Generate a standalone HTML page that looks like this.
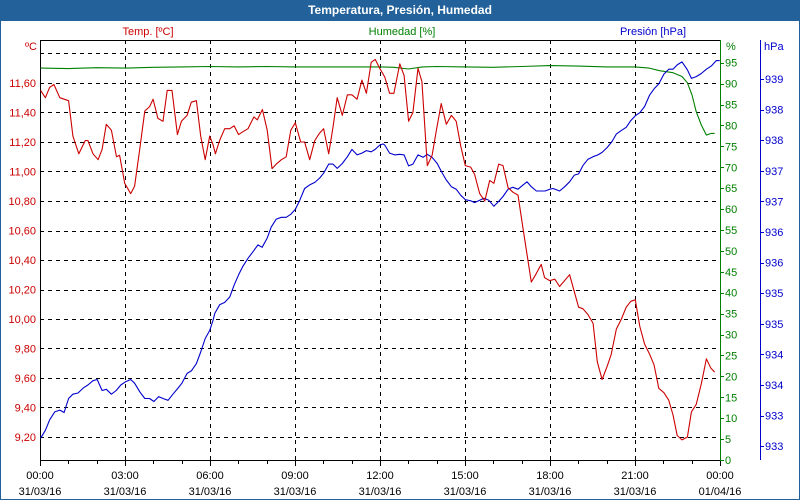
<!DOCTYPE html>
<html><head><meta charset="utf-8">
<style>
html,body{margin:0;padding:0;background:#fff;}
#wrap{position:relative;width:800px;height:500px;overflow:hidden;font-family:"Liberation Sans",sans-serif;}
#titlebar{position:absolute;left:0;top:0;width:800px;height:20px;background:#22619a;color:#fff;font-weight:bold;font-size:12px;text-align:center;line-height:20px;}
#frame{position:absolute;left:0;top:20px;width:798px;height:478px;border:1px solid #22619a;}
svg{position:absolute;left:0;top:0;}
svg text{font-family:"Liberation Sans",sans-serif;font-size:11px;}
</style></head>
<body>
<div id="wrap">
<div id="titlebar">Temperatura, Presión, Humedad</div>
<div id="frame"></div>
<svg id="chart" width="800" height="500"></svg>
</div>
<script>
// ---- data ----
const tempHours = [0.02,0.19,0.34,0.49,0.70,1.01,1.16,1.37,1.60,1.69,1.87,2.05,2.19,2.34,2.52,2.70,2.81,2.99,3.20,3.34,3.52,3.70,3.87,3.99,4.16,4.34,4.49,4.66,4.85,4.99,5.19,5.34,5.52,5.67,5.83,5.99,6.11,6.19,6.34,6.52,6.70,6.85,7.01,7.16,7.34,7.55,7.67,7.85,8.02,8.19,8.34,8.52,8.69,8.85,9.01,9.20,9.34,9.52,9.70,9.87,10.01,10.19,10.34,10.49,10.67,10.85,11.01,11.19,11.36,11.52,11.69,11.83,11.99,12.11,12.17,12.34,12.49,12.70,12.85,13.01,13.16,13.34,13.48,13.67,13.84,13.99,14.16,14.34,14.52,14.69,14.85,15.01,15.20,15.34,15.52,15.70,15.87,16.02,16.19,16.34,16.52,16.69,16.87,17.05,17.34,17.52,17.69,17.81,17.99,18.17,18.34,18.69,19.01,19.16,19.34,19.52,19.67,19.84,20.02,20.16,20.34,20.52,20.69,20.85,21.01,21.17,21.34,21.52,21.67,21.84,22.02,22.19,22.34,22.49,22.66,22.85,22.99,23.16,23.34,23.52,23.67,23.81];
const tempValues = [11.55,11.50,11.57,11.59,11.50,11.48,11.24,11.12,11.21,11.21,11.12,11.08,11.15,11.32,11.28,11.10,11.11,10.92,10.85,10.90,11.15,11.41,11.44,11.49,11.36,11.34,11.55,11.55,11.25,11.34,11.38,11.47,11.48,11.24,11.08,11.24,11.18,11.12,11.21,11.29,11.29,11.31,11.25,11.27,11.29,11.37,11.35,11.42,11.28,11.02,11.05,11.08,11.10,11.28,11.33,11.20,11.20,11.08,11.21,11.26,11.29,11.12,11.30,11.50,11.38,11.52,11.52,11.49,11.62,11.53,11.74,11.76,11.70,11.66,11.64,11.53,11.53,11.73,11.65,11.34,11.40,11.70,11.61,11.04,11.11,11.28,11.46,11.32,11.38,11.34,11.17,11.04,11.03,10.98,10.85,10.80,10.94,10.92,11.05,11.04,10.89,10.86,10.84,10.61,10.25,10.31,10.37,10.28,10.26,10.27,10.22,10.30,10.08,10.07,10.03,9.97,9.71,9.59,9.68,9.76,9.93,10.00,10.08,10.12,10.13,9.95,9.83,9.76,9.69,9.53,9.50,9.45,9.35,9.21,9.18,9.20,9.37,9.42,9.56,9.73,9.67,9.64];
const presHours = [0.02,0.19,0.34,0.52,0.70,0.85,1.01,1.16,1.34,1.52,1.69,1.87,2.02,2.19,2.34,2.52,2.69,2.85,3.01,3.20,3.34,3.52,3.70,3.87,4.02,4.19,4.34,4.52,4.69,4.87,5.01,5.19,5.34,5.52,5.67,5.83,5.99,6.11,6.17,6.34,6.52,6.70,6.85,7.01,7.16,7.34,7.52,7.69,7.84,8.02,8.16,8.34,8.52,8.69,8.85,9.01,9.17,9.34,9.52,9.70,9.87,10.01,10.19,10.34,10.49,10.67,10.85,11.01,11.19,11.36,11.52,11.69,11.83,11.99,12.11,12.17,12.34,12.52,12.70,12.85,13.01,13.16,13.34,13.52,13.67,13.84,14.02,14.19,14.34,14.52,14.69,14.85,15.01,15.20,15.34,15.52,15.67,15.84,16.02,16.19,16.34,16.52,16.69,16.87,17.05,17.19,17.34,17.52,17.69,17.83,17.99,18.11,18.34,18.52,18.69,18.86,19.01,19.17,19.34,19.52,19.69,19.84,20.02,20.19,20.34,20.52,20.69,20.85,21.01,21.17,21.34,21.52,21.69,21.84,22.02,22.19,22.34,22.49,22.66,22.85,22.99,23.16,23.34,23.52,23.69,23.87,23.99];
const presValues = [933.13,933.26,933.43,933.56,933.59,933.55,933.78,933.85,933.87,933.95,934.00,934.07,934.09,933.91,933.93,933.85,933.91,934.00,934.05,934.09,934.03,933.89,933.78,933.78,933.73,933.81,933.78,933.75,933.85,933.95,934.03,934.19,934.23,934.35,934.54,934.76,934.89,935.06,935.17,935.31,935.35,935.44,935.63,935.80,935.94,936.07,936.18,936.29,936.25,936.40,936.58,936.71,936.74,936.74,936.79,936.87,937.02,937.21,937.27,937.31,937.38,937.46,937.61,937.61,937.54,937.62,937.73,937.85,937.76,937.79,937.83,937.81,937.85,937.92,937.94,937.92,937.79,937.76,937.77,937.76,937.58,937.61,937.76,937.72,937.77,937.72,937.62,937.47,937.35,937.24,937.20,937.10,937.03,937.01,936.98,937.02,937.05,937.02,936.92,937.00,937.08,937.20,937.23,937.20,937.27,937.32,937.24,937.17,937.17,937.17,937.20,937.21,937.17,937.24,937.32,937.43,937.45,937.59,937.69,937.73,937.76,937.80,937.88,937.98,938.10,938.16,938.21,938.32,938.40,938.45,938.55,938.74,938.85,938.92,939.08,939.16,939.16,939.23,939.28,939.15,939.01,939.04,939.09,939.16,939.21,939.30,939.30];
const humHours = [0.02,1,2,3,4,5,6,7,8,9,10,11,12,12.5,13,13.5,14,15,16,17,18,19,20,21,21.5,21.87,22.34,22.66,22.85,23.01,23.16,23.34,23.52,23.69,23.81];
const humValues = [93.7,93.6,93.8,93.7,93.9,94.0,94.1,94.0,94.1,94.0,94.0,94.0,94.0,93.9,93.5,94.0,94.1,94.0,93.9,94.1,94.3,94.2,94.0,94.0,93.7,93.1,92.6,91.7,90.2,87.3,83.3,80.1,77.7,78.1,78.1];
const tempTicks = ["9,20","9,40","9,60","9,80","10,00","10,20","10,40","10,60","10,80","11,00","11,20","11,40","11,60"];
const tempTickValues = [9.2,9.4,9.6,9.8,10.0,10.2,10.4,10.6,10.8,11.0,11.2,11.4,11.6,11.8];
const humTicks = [0,5,10,15,20,25,30,35,40,45,50,55,60,65,70,75,80,85,90,95];
const presTickValues = [939.0,938.5,938.0,937.5,937.0,936.5,936.0,935.5,935.0,934.5,934.0,933.5,933.0];
const presTickLabels = ["939","938","938","937","937","936","936","935","935","934","934","933","933"];
const timeLabels = ["00:00","03:00","06:00","09:00","12:00","15:00","18:00","21:00","00:00"];
const dateLabels = ["31/03/16","31/03/16","31/03/16","31/03/16","31/03/16","31/03/16","31/03/16","31/03/16","01/04/16"];

// ---- scales ----
const X0=40, X1=720, YT=40, YB=460;
const xS = h => X0 + h*(X1-X0)/24;
const yT = t => 83 + (11.6-t)*147.5;
const yH = v => 460 - v*4.182;
const yP = p => 79 + (939-p)*61.2;

const svg=document.getElementById('chart');
const NS='http://www.w3.org/2000/svg';
function mk(tag,attrs,parent){const e=document.createElementNS(NS,tag);for(const k in attrs)e.setAttribute(k,attrs[k]);(parent||svg).appendChild(e);return e;}
function txt(s,x,y,anchor,fill,name){const t=mk('text',{x:x,y:y,'text-anchor':anchor,fill:fill});t.textContent=s;


return t;}

// grid
const grid=mk('g',{stroke:'#000','stroke-width':1,'stroke-dasharray':'4,4'});


tempTickValues.forEach(v=>{const y=Math.round(yT(v))+0.5;const l=mk('line',{x1:X0,x2:X1,y1:y,y2:y},grid);

});
for(let i=1;i<8;i++){const x=Math.round(xS(i*3))+0.5;const l=mk('line',{x1:x,x2:x,y1:YT,y2:YB},grid);

}

// axes
const ax=mk('g',{stroke:'#000','stroke-width':1});


mk('line',{x1:X0+0.5,x2:X0+0.5,y1:YT,y2:YB+1},ax);
mk('line',{x1:X0,x2:X1,y1:YT+0.5,y2:YT+0.5},ax);
mk('line',{x1:X0,x2:X1,y1:YB+0.5,y2:YB+0.5},ax);
for(let i=0;i<=24;i++){const x=Math.round(xS(i))+0.5;mk('line',{x1:x,x2:x,y1:YB,y2:YB+(i%3==0?6:4)},ax);}
// green axis
const gax=mk('g',{stroke:'#008000','stroke-width':1});


mk('line',{x1:720.5,x2:720.5,y1:YT,y2:YB},gax);
humTicks.forEach(v=>{const y=Math.round(yH(v))+0.5;mk('line',{x1:720,x2:724,y1:y,y2:y},gax);});
const bax=mk('g',{stroke:'#0000cc','stroke-width':1});


mk('line',{x1:760.5,x2:760.5,y1:YT,y2:YB},bax);
presTickValues.forEach(v=>{const y=Math.round(yP(v))+0.5;mk('line',{x1:760,x2:764,y1:y,y2:y},bax);});

// labels
tempTicks.forEach((s,i)=>txt(s,36,yT(tempTickValues[i])+4,'end','#cc0000','temp-tick-label'));
humTicks.forEach(v=>txt(String(v),725,yH(v)+4,'start','#008000','humidity-tick-label'));
presTickValues.forEach((v,i)=>txt(presTickLabels[i],765,yP(v)+4,'start','#0000cc','pressure-tick-label'));
timeLabels.forEach((s,i)=>txt(s,xS(i*3),479,'middle','#000','x-time-label'));
dateLabels.forEach((s,i)=>txt(s,xS(i*3),495,'middle','#000','x-date-label'));
txt('ºC',37,50,'end','#cc0000','temp-unit');
txt('%',726,50,'start','#008000','humidity-unit');
txt('hPa',764,50,'start','#0000cc','pressure-unit');
txt('Temp. [ºC]',148,35,'middle','#cc0000','temp-series-title');
txt('Humedad [%]',402,35,'middle','#008000','humidity-series-title');
txt('Presión [hPa]',653,35,'middle','#0000cc','pressure-series-title');

// series
function line(hs,vs,ys,color,name){const d=hs.map((h,i)=>(i?'L':'M')+xS(h).toFixed(1)+','+ys(vs[i]).toFixed(1)).join(' ');
const p=mk('path',{d:d,fill:'none',stroke:color,'stroke-width':1.1,'stroke-linejoin':'round'});

}
line(humHours,humValues,yH,'#008000','humidity-line');
line(presHours,presValues,yP,'#0000cc','pressure-line');
line(tempHours,tempValues,yT,'#cc0000','temperature-line');
</script>
</body></html>
